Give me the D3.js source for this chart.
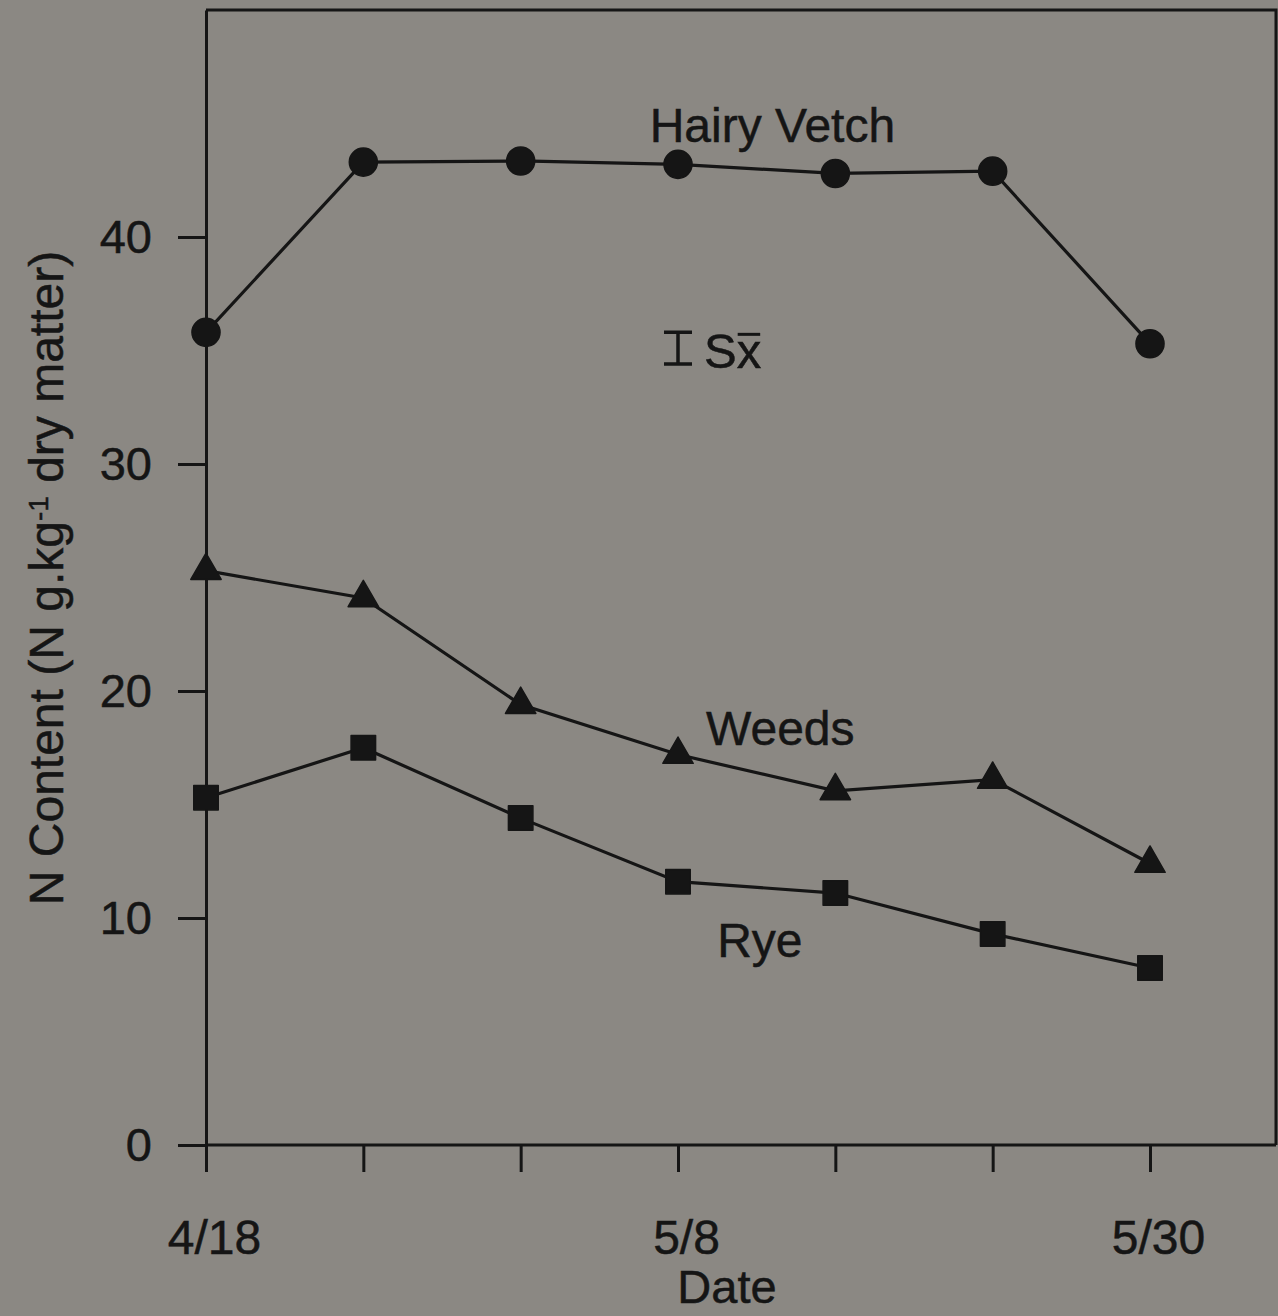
<!DOCTYPE html>
<html>
<head>
<meta charset="utf-8">
<script src="https://cdn.jsdelivr.net/npm/d3@7/dist/d3.min.js"></script>
<style>
  html, body { margin: 0; padding: 0; background: #8b8883; }
  svg { display: block; }
  text { font-family: "Liberation Sans", Arial, sans-serif; fill: #151515; stroke: #151515; stroke-width: 0.5px; }
</style>
</head>
<body>
<svg id="chart" width="1278" height="1316"></svg>
<script>
// Sampling dates (weekly harvests); only three of them carry a label
const sampleIndex = [0, 1, 2, 3, 4, 5, 6];
const dateTickLabels = ["4/18", "", "", "5/8", "", "", "5/30"];

// N content, g per kg dry matter
const hairyVetch = [35.8, 43.3, 43.35, 43.2, 42.8, 42.9, 35.3];
const weeds      = [25.3, 24.1, 19.4, 17.2, 15.6, 16.1, 12.4];
const rye        = [15.3, 17.5, 14.4, 11.6, 11.1, 9.3, 7.8];

const yTickValues = [0, 10, 20, 30, 40];

// standard error of the mean, shown as a single bar (centre and half length)
const seCentre = 35.1;
const seHalf = 0.7;

const ink = "#151515";
const svg = d3.select("#chart");

const x = d3.scaleLinear().domain([0, 6]).range([206, 1150]);
const y = d3.scaleLinear().domain([0, 50]).range([1145, 10]);

const plotLeft = 206, plotRight = 1276, plotTop = y(50), plotBottom = y(0);

// frame: top and right edges
svg.append("path")
  .attr("d", `M${plotLeft},${plotTop} H${plotRight} V${plotBottom}`)
  .attr("fill", "none").attr("stroke", ink).attr("stroke-width", 3);

// y axis
const yAxis = svg.append("g")
  .attr("transform", `translate(${plotLeft},0)`)
  .call(d3.axisLeft(y).tickValues(yTickValues).tickSize(28).tickSizeOuter(0)
    .tickPadding(26).tickFormat(d3.format("d")));
yAxis.select(".domain").attr("stroke", ink).attr("stroke-width", 3);
yAxis.selectAll(".tick line").attr("stroke", ink).attr("stroke-width", 3);
yAxis.selectAll(".tick text")
  .attr("fill", ink).style("font-size", "47px").attr("font-family", null);

// x axis
const xAxis = svg.append("g")
  .attr("transform", `translate(0,${plotBottom})`)
  .call(d3.axisBottom(x).tickValues(sampleIndex).tickSize(27).tickSizeOuter(0).tickPadding(48)
    .tickFormat(i => dateTickLabels[i]));
xAxis.select(".domain").attr("d", `M${plotLeft},0 H${plotRight}`).attr("stroke", ink).attr("stroke-width", 3);
xAxis.selectAll(".tick line").attr("stroke", ink).attr("stroke-width", 3);
xAxis.selectAll(".tick text")
  .attr("fill", ink).style("font-size", "48px").attr("font-family", null)
  .attr("dx", 8);

// axis titles
svg.append("text")
  .attr("x", 727).attr("y", 1303)
  .attr("text-anchor", "middle").style("font-size", "47px")
  .text("Date");

const yTitle = svg.append("text")
  .attr("transform", "translate(63,578) rotate(-90)")
  .attr("text-anchor", "middle").style("font-size", "48px");
yTitle.append("tspan").text("N Content (N g.kg");
yTitle.append("tspan").attr("baseline-shift", "super").style("font-size", "28px").text("-1");
yTitle.append("tspan").text("  dry matter)");

// series
const series = [
  { name: "Hairy Vetch", values: hairyVetch, symbol: d3.symbolCircle,   size: 620, label: [3.6, 44.2] },
  { name: "Weeds",       values: weeds,      symbol: d3.symbolTriangle, size: 400, label: [3.65, 17.6] },
  { name: "Rye",         values: rye,        symbol: d3.symbolSquare,   size: 600, label: [3.52, 8.3] }
];

const line = d3.line().x((d, i) => x(sampleIndex[i])).y(d => y(d));

series.forEach(s => {
  svg.append("path")
    .datum(s.values)
    .attr("d", line)
    .attr("fill", "none").attr("stroke", ink).attr("stroke-width", 3.2);

  svg.append("g").selectAll("path")
    .data(s.values)
    .join("path")
    .attr("transform", (d, i) => `translate(${x(sampleIndex[i])},${y(d)})`)
    .attr("d", d3.symbol(s.symbol, s.size))
    .attr("fill", ink).attr("stroke", ink).attr("stroke-width", 1.5)
    .attr("stroke-linejoin", "round");

  svg.append("text")
    .attr("x", x(s.label[0])).attr("y", y(s.label[1]))
    .attr("text-anchor", "middle").style("font-size", "48px")
    .text(s.name);
});

// standard error bar with its label
const seX = x(3);
const seTop = y(seCentre + seHalf), seBot = y(seCentre - seHalf);
svg.append("path")
  .attr("d", `M${seX - 14},${seTop} H${seX + 14} M${seX},${seTop} V${seBot} M${seX - 14},${seBot} H${seX + 14}`)
  .attr("fill", "none").attr("stroke", ink).attr("stroke-width", 3.5);

const seLabel = svg.append("text")
  .attr("x", seX + 26).attr("y", y(seCentre) + 20)
  .style("font-size", "49px");
seLabel.append("tspan").text("S");
const xBar = seLabel.append("tspan").text("x");
const bb = xBar.node().getBBox();
svg.append("line")
  .attr("x1", bb.x + 1).attr("x2", bb.x + bb.width - 1)
  .attr("y1", y(seCentre + seHalf) + 2).attr("y2", y(seCentre + seHalf) + 2)
  .attr("stroke", ink).attr("stroke-width", 3);
</script>
</body>
</html>
